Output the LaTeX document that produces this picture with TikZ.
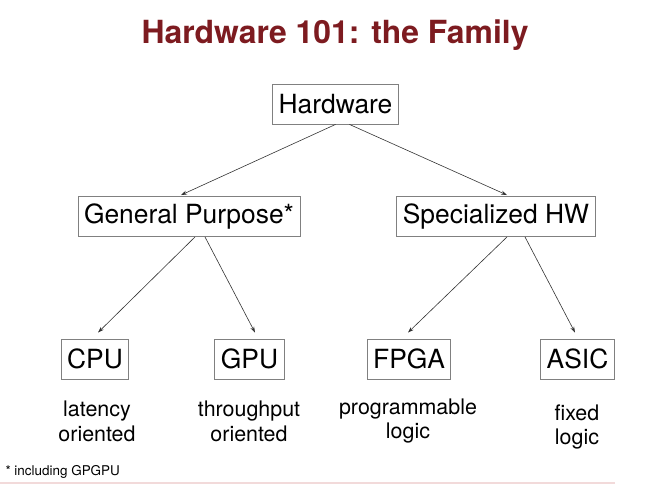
\documentclass[tikz,border=0pt]{standalone}
\usepackage{fontspec}
\setmainfont{TeX Gyre Heros}
\usetikzlibrary{arrows.meta}
\definecolor{titlered}{RGB}{125,27,32}
\definecolor{boxgray}{RGB}{128,128,128}
\definecolor{edgepink}{RGB}{242,218,218}
\begin{document}
\begin{tikzpicture}[x=1bp, y=-1bp,
	hwbox/.style={draw=boxgray, line width=0.9bp, inner xsep=6bp, minimum height=40bp, font=\fontsize{26.5}{30}\selectfont},
	note/.style={align=center, font=\fontsize{21.5}{25}\selectfont},
	link/.style={draw=black!80, line width=0.6bp, -{Stealth[length=6bp,width=4bp]}}]
	\useasboundingbox (0,0) rectangle (653,484);
	\node [text=titlered, font=\fontsize{32}{36}\selectfont\bfseries] (title) at (335,35) {Hardware 101: the Family};
	\node [hwbox] (hw) at (335.5,104) {Hardware};
	\node [hwbox] (gp) at (189,216.5) {General Purpose*};
	\node [hwbox] (shw) at (496,216.5) {Specialized HW};
	\node [hwbox] (cpu) at (95,359) {CPU};
	\node [hwbox] (gpu) at (249.5,359) {GPU};
	\node [hwbox] (fpga) at (409,359) {FPGA};
	\node [hwbox] (asic) at (577.5,359) {ASIC};
	\node [note] (cpunote) at (97,421) {latency\\oriented};
	\node [note] (gpunote) at (249,421) {throughput\\oriented};
	\node [note] (fpganote) at (408,421) {programmable\\logic};
	\node [note] (asicnote) at (577,427) {fixed\\logic};
	\node [anchor=west, font=\fontsize{13.5}{15}\selectfont] (foot) at (2,472) {* including GPGPU};
	\draw [link] (hw.south) -- ([xshift=-8bp,yshift=1bp]gp.north);
	\draw [link] ([xshift=14bp]hw.south) -- ([xshift=11bp,yshift=1bp]shw.north);
	\draw [link] ([xshift=6bp]gp.south) -- ([xshift=3bp,yshift=6bp]cpu.north);
	\draw [link] ([xshift=16bp]gp.south) -- ([xshift=5.5bp,yshift=6bp]gpu.north);
	\draw [link] ([xshift=11bp]shw.south) -- ([xshift=-1bp,yshift=6bp]fpga.north);
	\draw [link] ([xshift=29bp]shw.south) -- ([xshift=-2.5bp,yshift=6bp]asic.north);
	\draw [edgepink, line width=1.5bp] (0,483) -- (615,483);
\end{tikzpicture}
\end{document}
